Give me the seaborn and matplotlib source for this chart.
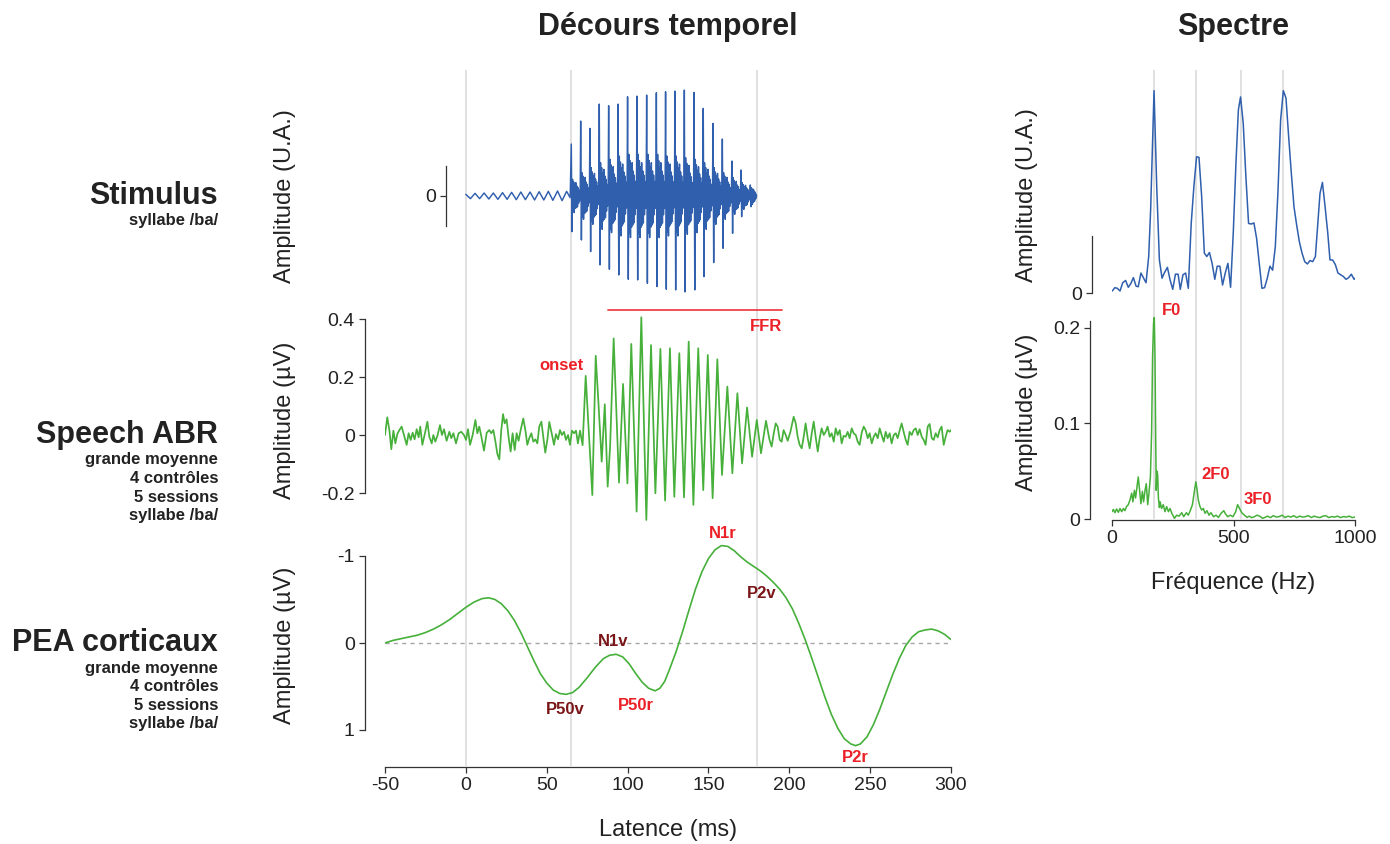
import seaborn as sns
import matplotlib.pyplot as plt

# ---------------- data ----------------
# stimulus /ba/ : low-level prevoicing (0-65 ms) then pitch pulses
stim_pre_ms = [0.0, 2.8, 5.7, 8.5, 11.3, 14.2, 17.0, 19.8, 22.7, 25.5, 28.3, 31.2,
               34.0, 36.8, 39.7, 42.5, 45.3, 48.2, 51.0, 53.8, 56.7, 59.5, 62.3, 64.5]
stim_pre_val = [0.05, -0.08, 0.08, -0.08, 0.09, -0.09, 0.09, -0.10, 0.10, -0.10, 0.11, -0.11,
                0.12, -0.11, 0.12, -0.12, 0.13, -0.12, 0.14, -0.13, 0.15, -0.14, 0.14, -0.05]
stim_pulse_ms = [65.2, 71.0, 76.7, 82.5, 88.3, 94.1, 100.0, 105.8, 111.8, 117.8,
                 123.5, 129.3, 135.1, 141.1, 146.8, 152.8, 158.6, 164.5, 170.1, 175.9]
stim_pos = [1.56, 2.25, 2.03, 2.76, 2.71, 2.76, 2.98, 3.00, 3.03, 3.10,
            3.13, 3.15, 3.18, 3.11, 2.63, 2.18, 1.71, 1.05, 0.78, 0.33]
stim_neg = [-1.07, -1.32, -1.67, -2.07, -2.20, -2.37, -2.50, -2.52, -2.62, -2.72,
            -2.80, -2.82, -2.88, -2.82, -2.42, -2.00, -1.57, -1.12, -0.62, -0.32]
stim_ring = [0.5, 0.7, 0.85, 1.0, 1.1, 1.2, 1.25, 1.25, 1.25, 1.25,
             1.2, 1.2, 1.15, 1.1, 1.0, 0.85, 0.7, 0.55, 0.4, 0.25]
ring_shape = [1.0, -0.9, 0.85, -1.0, 0.7, -0.75, 0.8, -0.7, 0.6, -0.65, 0.5, -0.45, 0.35, -0.3, 0.15]
stim_end_ms = 179.8

# speech ABR (µV)
abr_pre_ms = [-50.0, -48.6, -47.3, -46.1, -44.8, -43.6, -42.4, -41.1, -39.7, -38.3,
              -36.6, -35.4, -34.1, -32.9, -31.7, -30.4, -29.2, -28.2, -26.9, -25.3,
              -23.8, -22.6, -21.1, -20.1, -18.9, -17.6, -16.0, -14.8, -13.5, -11.9,
              -10.2, -9.0, -7.7, -6.1, -4.5, -2.8, -1.2, 0.1, 1.3, 2.6,
              4.2, 5.9, 7.1, 8.3, 9.6, 11.2, 12.9, 14.5, 15.7, 17.0,
              18.2, 19.5, 20.7, 21.9, 23.0, 24.0, 25.2, 26.5, 27.7, 28.9,
              30.2, 31.4, 32.6, 33.9, 35.5, 36.8, 38.0, 39.2, 40.5, 41.7,
              43.0, 44.2, 45.4, 46.7, 47.9, 49.1, 50.4, 51.6, 53.3, 54.5,
              55.7, 57.0, 58.2, 59.4, 60.7, 61.9, 63.2, 64.4, 65.6, 66.9,
              68.1, 69.3, 70.6, 72.2]
abr_pre_uv = [0.0, 0.061, 0.017, -0.049, 0.015, -0.029, 0.003, 0.017, 0.029, 0.0,
              -0.034, 0.006, -0.017, 0.008, -0.015, 0.020, -0.008, 0.029, -0.034, 0.006,
              0.046, -0.006, -0.029, 0.0, -0.023, -0.003, 0.034, 0.0, 0.020, -0.020,
              0.011, -0.011, 0.006, -0.029, 0.006, 0.011, 0.0, -0.017, 0.020, -0.034,
              0.0, 0.052, 0.006, 0.029, -0.006, -0.054, 0.008, 0.017, 0.006, 0.017,
              -0.020, -0.066, -0.084, 0.017, 0.072, 0.040, 0.054, -0.011, -0.057, 0.006,
              -0.052, 0.006, -0.020, 0.017, 0.057, 0.017, -0.034, -0.011, 0.006, -0.023,
              -0.015, -0.029, 0.029, 0.046, -0.006, -0.061, -0.017, 0.045, 0.0, -0.034,
              0.003, -0.015, 0.017, 0.0, 0.011, -0.017, 0.0, -0.034, 0.015, 0.006,
              0.015, -0.029, 0.015, -0.035]
abr_ffr_ms = [74.1, 78.2, 80.3, 81.9, 84.0, 85.9, 87.7, 89.2, 91.4, 94.7,
              97.2, 99.9, 102.3, 105.6, 108.5, 111.6, 114.5, 117.2, 120.3, 123.2,
              126.2, 128.9, 132.0, 134.9, 137.8, 140.7, 143.7, 146.8, 149.6, 152.6,
              155.5, 158.4, 161.7, 164.8, 167.9, 170.8, 173.9, 177.0, 179.9, 182.5,
              185.6, 187.7]
abr_ffr_uv = [0.204, -0.207, 0.273, 0.12, -0.092, 0.106, -0.178, -0.04, 0.333, -0.164,
              0.176, -0.167, 0.314, -0.264, 0.406, -0.293, 0.310, -0.201, 0.297, -0.226,
              0.299, -0.213, 0.282, -0.215, 0.322, -0.241, 0.299, -0.190, 0.276, -0.218,
              0.261, -0.138, 0.167, -0.132, 0.144, -0.098, 0.095, -0.075, 0.052, -0.063,
              0.049, -0.015]
abr_post_ms = [189.1, 190.4, 191.6, 192.8, 194.1, 195.3, 196.5, 197.8, 199.0, 200.7,
               202.7, 204.0, 205.2, 206.4, 207.7, 208.9, 210.1, 211.4, 212.6, 213.9,
               215.1, 216.3, 217.6, 218.8, 220.0, 221.3, 222.5, 223.7, 225.0, 226.2,
               227.5, 228.7, 229.9, 231.2, 232.4, 233.6, 234.9, 236.1, 237.3, 238.6,
               239.8, 241.1, 242.3, 243.5, 244.8, 246.0, 247.2, 248.5, 249.7, 251.0,
               252.2, 253.4, 254.7, 255.9, 257.1, 258.4, 259.6, 260.8, 262.1, 263.3,
               264.6, 265.8, 267.0, 268.3, 269.5, 270.7, 272.0, 273.2, 274.4, 275.7,
               276.9, 278.2, 279.4, 280.6, 281.9, 283.1, 284.3, 285.6, 286.8, 288.1,
               289.3, 290.5, 291.8, 293.0, 294.2, 295.5, 296.7, 297.9, 299.2, 300.0]
abr_post_uv = [-0.040, 0.006, 0.040, 0.029, -0.017, -0.023, 0.017, 0.0, -0.020, 0.011,
               0.063, 0.040, -0.006, -0.034, -0.046, -0.006, 0.040, -0.011, -0.046, 0.006,
               0.046, -0.006, -0.057, -0.011, 0.023, 0.0, 0.011, 0.029, -0.006, 0.006,
               -0.023, 0.023, 0.0, 0.017, -0.029, -0.003, -0.006, 0.011, -0.011, 0.023,
               0.006, 0.0, -0.023, -0.034, 0.008, 0.029, 0.017, -0.011, 0.006, -0.029,
               -0.006, 0.006, -0.011, 0.023, 0.0, -0.023, 0.011, -0.011, 0.006, -0.029,
               0.0, 0.006, -0.011, 0.017, 0.040, 0.011, -0.017, -0.034, 0.011, 0.0,
               0.017, 0.023, 0.0, 0.020, -0.006, -0.017, -0.034, 0.029, 0.038, -0.011,
               -0.017, 0.006, -0.008, 0.017, 0.029, -0.034, -0.006, 0.017, 0.011, 0.017]
ffr_window_ms = [88.0, 195.5]
ffr_bar_uv = 0.431

# cortical AEP (µV, negative up)
pea_ms = [-50, -45, -40, -35, -30, -25, -20, -15, -10, -5,
          0, 5, 10, 14, 18, 22, 26, 30, 34, 38,
          42, 46, 50, 54, 58, 62, 66, 70, 75, 80,
          85, 89, 93, 97, 101, 105, 109, 113, 117, 120,
          123, 126, 130, 134, 138, 142, 146, 150, 154, 158,
          162, 166, 170, 174, 178, 182, 186, 190, 194, 198,
          202, 206, 210, 214, 218, 222, 226, 230, 234, 238,
          241, 244, 248, 252, 256, 260, 264, 268, 272, 276,
          280, 284, 288, 292, 296, 300]
pea_uv = [0.00, -0.03, -0.05, -0.07, -0.09, -0.12, -0.16, -0.21, -0.27, -0.34,
          -0.41, -0.47, -0.51, -0.52, -0.50, -0.45, -0.37, -0.26, -0.12, 0.04,
          0.20, 0.35, 0.46, 0.54, 0.58, 0.59, 0.57, 0.51, 0.40, 0.28,
          0.18, 0.14, 0.13, 0.16, 0.24, 0.35, 0.45, 0.52, 0.55, 0.52,
          0.44, 0.30, 0.10, -0.13, -0.38, -0.62, -0.82, -0.97, -1.07, -1.12,
          -1.11, -1.06, -0.99, -0.93, -0.88, -0.83, -0.77, -0.70, -0.62, -0.52,
          -0.39, -0.22, -0.03, 0.18, 0.40, 0.62, 0.82, 0.98, 1.10, 1.16,
          1.18, 1.16, 1.08, 0.94, 0.76, 0.56, 0.36, 0.18, 0.03, -0.07,
          -0.13, -0.15, -0.16, -0.14, -0.10, -0.04]
pea_labels = ["N1r", "P2v", "N1v", "P50v", "P50r", "P2r"]
pea_label_ms = [159.0, 182.9, 91.2, 61.6, 105.2, 240.6]
pea_label_uv = [-1.26, -0.57, -0.02, 0.76, 0.72, 1.32]
pea_label_dark = [False, True, True, True, False, False]

# spectra
spec_stim_hz = [1, 12, 22, 33, 44, 56, 67, 78, 88, 99, 108, 119, 129, 140, 151, 159, 173, 184, 195, 206,
                215, 228, 239, 250, 261, 272, 281, 292, 303, 314, 326, 337, 348, 358, 369, 380, 390, 401, 412, 423,
                433, 444, 455, 466, 477, 488, 499, 510, 520, 529, 540, 551, 562, 573, 584, 595, 606, 617, 628, 639,
                650, 661, 672, 683, 694, 705, 716, 727, 738, 749, 760, 771, 782, 793, 804, 815, 826, 837, 848, 856,
                866, 877, 888, 897, 908, 919, 930, 941, 952, 963, 974, 985, 996, 1000]
spec_stim_amp = [0.035, 0.094, 0.082, 0.035, 0.18, 0.22, 0.10, 0.17, 0.27, 0.12, 0.11, 0.35, 0.27, 0.18, 0.64,
                 1.46, 3.55, 1.87, 0.58, 0.26, 0.35, 0.45, 0.23, 0.064, 0.33, 0.33, 0.064, 0.32, 0.35, 0.082,
                 1.22, 1.87, 2.39, 2.38, 1.69, 0.70, 0.64, 0.71, 0.52, 0.24, 0.47, 0.47, 0.14, 0.35, 0.52,
                 0.10, 1.05, 2.27, 3.21, 3.44, 2.98, 2.04, 1.22, 1.21, 1.23, 0.96, 0.52, 0.082, 0.094, 0.26,
                 0.47, 0.40, 0.81, 1.78, 3.04, 3.55, 3.42, 2.74, 2.10, 1.51, 1.19, 0.90, 0.70, 0.55, 0.51,
                 0.57, 0.55, 0.64, 1.28, 1.75, 1.94, 1.51, 1.05, 0.58, 0.58, 0.50, 0.35, 0.32, 0.29, 0.24,
                 0.27, 0.33, 0.24, 0.26]
spec_abr_hz = [0, 5.5, 12, 19, 26, 33, 40, 47, 53, 60, 67, 74, 81, 86, 92, 97, 103, 108, 114, 119,
               125, 130, 136, 141, 147, 152, 158, 163, 167, 171, 174, 177, 180, 182, 185, 188, 191, 195, 198, 204,
               211, 218, 225, 232, 239, 246, 257, 266, 276, 287, 295, 306, 314, 322, 331, 339, 345, 350, 355, 362,
               369, 376, 383, 391, 399, 407, 418, 428, 438, 449, 460, 468, 476, 487, 498, 509, 517, 525, 534, 545,
               556, 564, 575, 586, 597, 608, 619, 630, 640, 652, 664, 676, 688, 700, 712, 724, 736, 748, 760, 772,
               784, 796, 808, 820, 832, 844, 856, 868, 880, 892, 904, 916, 928, 940, 952, 964, 976, 988, 1000]
spec_abr_uv = [0.0077, 0.010, 0.0066, 0.0105, 0.007, 0.011, 0.0077, 0.011, 0.0087, 0.013,
               0.015, 0.020, 0.027, 0.018, 0.030, 0.022, 0.034, 0.044, 0.029, 0.016,
               0.029, 0.018, 0.030, 0.037, 0.015, 0.027, 0.044, 0.09, 0.17, 0.205,
               0.211, 0.17, 0.08, 0.03, 0.050, 0.046, 0.022, 0.012, 0.018, 0.011,
               0.015, 0.0077, 0.013, 0.0077, 0.011, 0.006, 0.0007, 0.004, 0.003, 0.0066,
               0.0024, 0.0066, 0.004, 0.0087, 0.015, 0.029, 0.039, 0.031, 0.020, 0.013,
               0.0094, 0.011, 0.006, 0.0087, 0.004, 0.0066, 0.0024, 0.004, 0.0017, 0.006,
               0.0087, 0.005, 0.0024, 0.004, 0.0024, 0.0077, 0.015, 0.011, 0.0066, 0.004,
               0.0017, 0.003, 0.0014, 0.0024, 0.004, 0.003, 0.0007, 0.0017, 0.003, 0.0015,
               0.0035, 0.002, 0.0025, 0.004, 0.0015, 0.003, 0.002, 0.0035, 0.0015, 0.003,
               0.002, 0.0025, 0.0035, 0.0015, 0.003, 0.002, 0.0015, 0.003, 0.0035, 0.0015,
               0.0025, 0.002, 0.003, 0.0015, 0.0025, 0.002, 0.003, 0.0015, 0.002]
spec_labels = ["F0", "2F0", "3F0"]
spec_label_hz = [243, 426, 601]
spec_label_uv = [0.218, 0.047, 0.020]

time_marks_ms = [0, 65, 180]
harm_marks_hz = [173, 346, 531, 705]

row_titles = ["Stimulus", "Speech ABR", "PEA corticaux"]
row_subs = [["syllabe /ba/"],
            ["grande moyenne", "4 contrôles", "5 sessions", "syllabe /ba/"],
            ["grande moyenne", "4 contrôles", "5 sessions", "syllabe /ba/"]]

# ---------------- style ----------------
BLUE = "#2f5fad"
GREEN = "#46b03b"
RED = "#ec2027"
DARKRED = "#7a1518"
GRID = "#d9d9d9"
INK = "#222222"

sns.set_theme(style="ticks")
plt.rcParams['font.family'] = ['Liberation Sans', 'DejaVu Sans']

W, H = 1390, 844
fig = plt.figure(figsize=(W / 100, H / 100), dpi=100)


def add_ax(left, top, right, bottom):
    ax = fig.add_axes([left / W, 1 - bottom / H, (right - left) / W, (bottom - top) / H])
    ax.patch.set_alpha(0)
    for s in ax.spines.values():
        s.set_color("#333333")
        s.set_linewidth(0.9)
    ax.tick_params(length=4.3, width=0.9, labelsize=14, pad=3, colors="#333333", labelcolor=INK)
    return ax


def line(ax, x, y, color, lw):
    sns.lineplot(x=x, y=y, ax=ax, color=color, lw=lw, estimator=None, errorbar=None)


def only_left(ax):
    for s in ["top", "right", "bottom"]:
        ax.spines[s].set_visible(False)
    ax.set_xticks([])


# build stimulus vertices from the per-pulse readings
stim_t, stim_v = list(stim_pre_ms), list(stim_pre_val)
for i, t0 in enumerate(stim_pulse_ms):
    t1 = stim_pulse_ms[i + 1] if i + 1 < len(stim_pulse_ms) else stim_end_ms
    stim_t += [t0, t0 + 0.45]
    stim_v += [stim_pos[i], stim_neg[i]]
    step = (t1 - t0 - 0.75) / len(ring_shape)
    for k, r in enumerate(ring_shape):
        stim_t.append(t0 + 0.45 + (k + 1) * step)
        stim_v.append(r * stim_ring[i])
stim_t.append(stim_end_ms)
stim_v.append(0.0)

abr_ms = abr_pre_ms + abr_ffr_ms + abr_post_ms
abr_uv = abr_pre_uv + abr_ffr_uv + abr_post_uv

# ---------------- time-course column ----------------
T0, T1 = 385, 951
bg = add_ax(T0, 70, T1, 766)
bg.set_xlim(-50, 300)
bg.axis("off")
for t in time_marks_ms:
    bg.axvline(t, color=GRID, lw=1.1)

# stimulus
ax1 = add_ax(T0, 196 - 3.3 * 33.3, T1, 196 + 3.3 * 33.3)
line(ax1, stim_t, stim_v, BLUE, 1.05)
ax1.set_xlim(-50, 300)
ax1.set_ylim(-3.3, 3.3)
only_left(ax1)
ax1.spines["left"].set_position(("data", -12.3))
ax1.spines["left"].set_bounds(-0.9, 0.9)
ax1.set_yticks([0])
ax1.set_yticklabels(["0"])
ax1.set_xlabel("")
ax1.set_ylabel("")

# speech ABR
ax2 = add_ax(T0, 435 - 0.45 * 290, T1, 435 + 0.33 * 290)
line(ax2, abr_ms, abr_uv, GREEN, 1.25)
ax2.set_xlim(-50, 300)
ax2.set_ylim(-0.33, 0.45)
only_left(ax2)
ax2.spines["left"].set_position(("outward", 14.4))
ax2.spines["left"].set_bounds(-0.2, 0.4)
ax2.set_yticks([-0.2, 0, 0.2, 0.4])
ax2.set_yticklabels(["-0.2", "0", "0.2", "0.4"])
ax2.plot(ffr_window_ms, [ffr_bar_uv, ffr_bar_uv], color=RED, lw=1.3, alpha=0.85)
ax2.text(ffr_window_ms[1], 0.375, "FFR", color=RED, fontsize=12, fontweight="bold",
         ha="right", va="center")
ax2.text(73.0, 0.24, "onset", color=RED, fontsize=12, fontweight="bold", ha="right", va="center")
ax2.set_xlabel("")
ax2.set_ylabel("")

# cortical AEP
ax3 = add_ax(T0, 643 - 1.45 * 87, T1, 643 + 1.42 * 87)
ax3.axhline(0, color="#a6a6a6", lw=1, ls=(0, (3, 3)))
line(ax3, pea_ms, pea_uv, GREEN, 1.2)
ax3.set_xlim(-50, 300)
ax3.set_ylim(1.42, -1.45)
for s in ["top", "right"]:
    ax3.spines[s].set_visible(False)
ax3.spines["left"].set_position(("outward", 14.4))
ax3.spines["left"].set_bounds(-1, 1)
ax3.set_yticks([-1, 0, 1])
ax3.set_yticklabels(["-1", "0", "1"])
ax3.set_xticks(range(-50, 301, 50))
ax3.set_xticklabels([str(v) for v in range(-50, 301, 50)])
for lab, t, v, dark in zip(pea_labels, pea_label_ms, pea_label_uv, pea_label_dark):
    ax3.text(t, v, lab, color=DARKRED if dark else RED, fontsize=12, fontweight="bold",
             ha="center", va="center")
ax3.set_xlabel("")
ax3.set_ylabel("")

# ---------------- spectrum column ----------------
S0, S1 = 1112, 1355
bg2 = add_ax(S0, 70, S1, 519)
bg2.set_xlim(0, 1000)
bg2.axis("off")
for f in harm_marks_hz:
    bg2.axvline(f, color=GRID, lw=1.1)

ax4 = add_ax(S0, 293 - 3.9 * 57, S1, 293 + 0.05 * 57)
line(ax4, spec_stim_hz, spec_stim_amp, BLUE, 1.1)
ax4.set_xlim(0, 1000)
ax4.set_ylim(-0.05, 3.9)
only_left(ax4)
ax4.spines["left"].set_position(("outward", 14.4))
ax4.spines["left"].set_bounds(0, 1)
ax4.set_yticks([0])
ax4.set_yticklabels(["0"])
ax4.set_xlabel("")
ax4.set_ylabel("")

ax5 = add_ax(S0, 519 - 0.225 * 955, S1, 519 + 0.001 * 955)
line(ax5, spec_abr_hz, spec_abr_uv, GREEN, 1.1)
ax5.set_xlim(0, 1000)
ax5.set_ylim(-0.001, 0.225)
for s in ["top", "right"]:
    ax5.spines[s].set_visible(False)
ax5.spines["left"].set_position(("outward", 15.8))
ax5.spines["left"].set_bounds(0, 0.207)
ax5.spines["bottom"].set_bounds(0, 1000)
ax5.set_yticks([0, 0.1, 0.2])
ax5.set_yticklabels(["0", "0.1", "0.2"])
ax5.set_xticks([0, 500, 1000])
ax5.set_xticklabels(["0", "500", "1000"])
for lab, f, v in zip(spec_labels, spec_label_hz, spec_label_uv):
    ax5.text(f, v, lab, color=RED, fontsize=12, fontweight="bold", ha="center", va="center",
             clip_on=False)
ax5.set_xlabel("")
ax5.set_ylabel("")

# ---------------- text ----------------
def ftext(x, y, s, **kw):
    fig.text(x / W, 1 - y / H, s, color=INK, **kw)


ftext(668, 27, "Décours temporel", fontsize=22, fontweight="bold", ha="center", va="center")
ftext(1233, 27, "Spectre", fontsize=22, fontweight="bold", ha="center", va="center")
ftext(668, 830, "Latence (ms)", fontsize=17, ha="center", va="center")
ftext(1233, 583, "Fréquence (Hz)", fontsize=17, ha="center", va="center")

for s, y in [("Amplitude (U.A.)", 196), ("Amplitude (µV)", 420), ("Amplitude (µV)", 645)]:
    ftext(285, y, s, fontsize=17, rotation=90, ha="center", va="center")
for s, y in [("Amplitude (U.A.)", 195), ("Amplitude (µV)", 412)]:
    ftext(1027, y, s, fontsize=17, rotation=90, ha="center", va="center")

title_y = [196, 435, 643]
for title, subs, y in zip(row_titles, row_subs, title_y):
    ftext(218, y, title, fontsize=22, fontweight="bold", ha="right", va="center")
    for k, sub in enumerate(subs):
        ftext(218, y + 25 + 18.5 * k, sub, fontsize=12, fontweight="bold", ha="right", va="center")

fig.savefig("out.png", dpi=100)
